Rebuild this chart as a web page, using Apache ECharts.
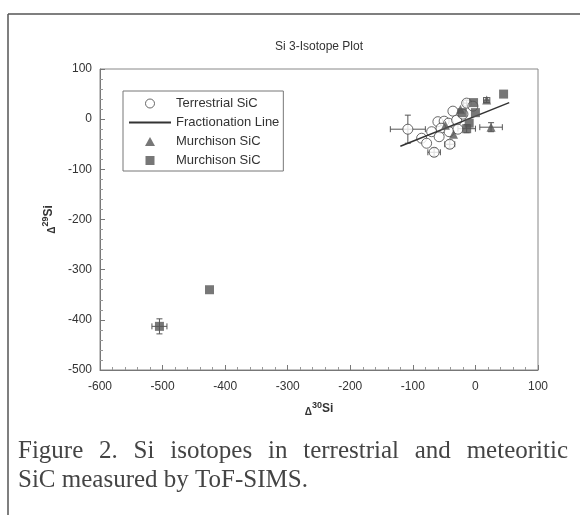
<!DOCTYPE html>
<html><head><meta charset="utf-8">
<script src="https://cdn.jsdelivr.net/npm/echarts@6/dist/echarts.min.js"></script>
<style>html,body{margin:0;padding:0;background:#fff}#c{width:580px;height:515px}</style>
</head><body><div id="c"></div>
<script>
// Data: [x (Δ30Si), y (Δ29Si), xErr, yErr]
const terrestrialSiC = [
  [-108, -20, 28, 28], [-36, 16, 0, 0], [-14, 32, 5, 6], [-4, 26, 0, 0],
  [-60, -5, 0, 0], [-50, -4, 0, 0], [-43, -8, 0, 0], [-30, -2, 0, 0],
  [-70, -25, 0, 0], [-55, -18, 0, 0], [-42, -25, 0, 0], [-28, -20, 0, 0],
  [-86, -38, 0, 0], [-78, -48, 0, 0], [-66, -66, 10, 8], [-41, -50, 8, 8],
  [-58, -35, 0, 0], [-20, 10, 0, 0]
];
const fractionationLine = [[-120, -54], [54, 33]];
const murchisonTriangles = [
  [18, 38, 5, 5], [25, -16, 18, 9], [-24, 20, 0, 0], [-48, -12, 0, 0], [-35, -30, 0, 0]
];
const murchisonSquares = [
  [-505, -413, 12, 15], [-425, -340, 0, 0], [45, 50, 0, 0], [0, 13, 0, 0],
  [-21, 13, 0, 0], [-14, -19, 14, 8], [-3, 33, 0, 0], [-10, -8, 0, 0]
];
const xTicks = {min: -600, max: 100, interval: 100};
const yTicks = {min: -500, max: 100, interval: 100};
const captionLine1 = 'Figure 2. Si isotopes in terrestrial and meteoritic';
const captionLine2 = 'SiC measured by ToF-SIMS.';

const chart = echarts.init(document.getElementById('c'));
const font = '"Liberation Sans", Arial, sans-serif';
const serif = '"Liberation Serif", "Times New Roman", serif';

function errRender(params, api) {
  const x = api.value(0), y = api.value(1), ex = api.value(2), ey = api.value(3);
  const ch = [];
  const st = {stroke: '#555', lineWidth: 1};
  if (ex > 0) {
    const l = api.coord([x - ex, y]), r = api.coord([x + ex, y]);
    ch.push({type: 'line', shape: {x1: l[0], y1: l[1], x2: r[0], y2: r[1]}, style: st});
    ch.push({type: 'line', shape: {x1: l[0], y1: l[1] - 3, x2: l[0], y2: l[1] + 3}, style: st});
    ch.push({type: 'line', shape: {x1: r[0], y1: r[1] - 3, x2: r[0], y2: r[1] + 3}, style: st});
  }
  if (ey > 0) {
    const t = api.coord([x, y + ey]), b = api.coord([x, y - ey]);
    ch.push({type: 'line', shape: {x1: t[0], y1: t[1], x2: b[0], y2: b[1]}, style: st});
    ch.push({type: 'line', shape: {x1: t[0] - 3, y1: t[1], x2: t[0] + 3, y2: t[1]}, style: st});
    ch.push({type: 'line', shape: {x1: b[0] - 3, y1: b[1], x2: b[0] + 3, y2: b[1]}, style: st});
  }
  return {type: 'group', children: ch};
}
function errSeries(data) {
  return {type: 'custom', renderItem: errRender, data: data, encode: {x: 0, y: 1}, z: 1, silent: true};
}

function axisCommon(labelMargin) {
  return {
    axisLine: {show: true, onZero: false, lineStyle: {color: '#777', width: 1}},
    axisTick: {show: true, inside: true, length: 5, lineStyle: {color: '#777'}},
    minorTick: {show: true, splitNumber: 5, length: 3, lineStyle: {color: '#999'}},
    splitLine: {show: false},
    axisLabel: {color: '#333', fontSize: 12, fontFamily: font, margin: labelMargin}
  };
}
const rich = {
  d: {fontSize: 10, fontFamily: font, color: '#333', fontWeight: 'bold', verticalAlign: 'bottom', padding: [6, 0, 0, 0]},
  s: {fontSize: 9, fontFamily: font, color: '#333', fontWeight: 'bold', verticalAlign: 'top', padding: [0, 0, 6, 0]},
  b: {fontSize: 12, fontFamily: font, color: '#333', fontWeight: 'bold'}
};

// lay the first caption line out across the given width
const capSize = 25;
const mctx = document.createElement('canvas').getContext('2d');
mctx.font = capSize + 'px "Liberation Serif"';
const words = captionLine1.split(' ');
const wWidths = words.map(w => mctx.measureText(w).width);
const totalW = 550;
const gap = Math.max(mctx.measureText(' ').width, (totalW - wWidths.reduce((a, b) => a + b, 0)) / (words.length - 1));
const captionGraphics = [];
let cx = 18;
words.forEach((w, i) => {
  captionGraphics.push({type: 'text', x: cx, y: 451, style: {text: w, fontSize: capSize, fontFamily: serif, fill: '#444', textVerticalAlign: 'middle'}});
  cx += wWidths[i] + gap;
});
captionGraphics.push({type: 'text', x: 18, y: 480, style: {text: captionLine2, fontSize: capSize, fontFamily: serif, fill: '#444', textVerticalAlign: 'middle'}});

chart.setOption({
  animation: false,
  backgroundColor: '#fff',
  grid: {left: 100, right: 42, top: 69, bottom: 145, show: true, borderColor: '#888', borderWidth: 1},
  xAxis: Object.assign({type: 'value', min: xTicks.min, max: xTicks.max, interval: xTicks.interval,
    name: '{d|Δ}{s|30}{b|Si}', nameLocation: 'middle', nameGap: 31, nameTextStyle: {rich: rich}}, axisCommon(11)),
  yAxis: Object.assign({type: 'value', min: yTicks.min, max: yTicks.max, interval: yTicks.interval,
    name: '{d|Δ}{s|29}{b|Si}', nameLocation: 'middle', nameGap: 43, nameRotate: 90, nameTextStyle: {rich: rich}}, axisCommon(8)),
  legend: {
    orient: 'vertical', left: 123, top: 91, padding: [6, 4, 4, 5], itemGap: 6,
    itemWidth: 42, itemHeight: 9, symbolKeepAspect: true,
    borderColor: '#777', borderWidth: 1, backgroundColor: '#fff',
    textStyle: {fontSize: 13, fontFamily: font, color: '#333'},
    formatter: n => n.trim(),
    data: [
      {name: 'Terrestrial SiC', icon: 'circle', itemStyle: {color: '#fff', borderColor: '#444', borderWidth: 1}},
      {name: 'Fractionation Line', itemStyle: {opacity: 0}},
      {name: 'Murchison SiC', icon: 'path://M5,0 L10,9 L0,9 Z'},
      {name: 'Murchison SiC ', icon: 'path://M0,0 L8,0 L8,8 L0,8 Z'}
    ]
  },
  graphic: [
    {type: 'line', shape: {x1: 8, y1: 14, x2: 580, y2: 14}, style: {stroke: '#555', lineWidth: 1.5}},
    {type: 'line', shape: {x1: 8, y1: 14, x2: 8, y2: 515}, style: {stroke: '#555', lineWidth: 1.5}},
    {type: 'text', x: 319, y: 41, style: {text: 'Si 3-Isotope Plot', textAlign: 'center', fontSize: 12, fontFamily: font, fill: '#333'}}
  ].concat(captionGraphics),
  series: [
    errSeries(terrestrialSiC), errSeries(murchisonTriangles), errSeries(murchisonSquares),
    {name: 'Terrestrial SiC', type: 'scatter', data: terrestrialSiC, symbol: 'circle', symbolSize: 10, z: 3,
      itemStyle: {color: '#fff', borderColor: '#444', borderWidth: 1}},
    {name: 'Fractionation Line', type: 'line', data: fractionationLine, symbol: 'none', showSymbol: false, z: 4,
      lineStyle: {color: '#333', width: 1.5}, itemStyle: {color: '#333'}},
    {name: 'Murchison SiC', type: 'scatter', data: murchisonTriangles, symbol: 'triangle', symbolSize: 9, z: 5,
      itemStyle: {color: '#555'}},
    {name: 'Murchison SiC ', type: 'scatter', data: murchisonSquares, symbol: 'rect', symbolSize: 9, z: 5,
      itemStyle: {color: '#555'}}
  ]
});
</script></body></html>
